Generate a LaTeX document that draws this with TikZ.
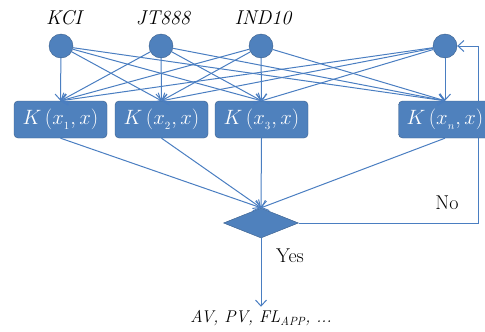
\documentclass[tikz,border=0pt]{standalone}
\usepackage{amsmath}
\usetikzlibrary{arrows.meta, shapes.geometric, backgrounds}
\definecolor{nodeblue}{RGB}{79,129,189}
\definecolor{edgeblue}{RGB}{56,93,138}
\definecolor{lineblue}{RGB}{74,126,193}

\begin{document}
\begin{tikzpicture}
    [x = 1pt, y = -1pt,
      dot/.style={circle, minimum size = 24pt, inner sep = 0pt, fill = nodeblue, draw = edgeblue},
      kbox/.style={rectangle, rounded corners = 4pt, minimum width = 93pt, minimum height = 37pt,
        fill = nodeblue, draw = edgeblue, text = white, font = \fontsize{22}{24}\selectfont},
      test/.style={diamond, aspect = 2.5, minimum width = 75pt, minimum height = 30pt,
        inner sep = 0pt, fill = nodeblue, draw = edgeblue},
      link/.style={draw = lineblue, line width = 1pt, -{Straight Barb[length = 6pt, width = 11pt]}},
      lbl/.style={font = \fontsize{20}{22}\selectfont}]
    \useasboundingbox (0,0) rectangle (485,332);

    % inputs
    \node[dot] (c1) at (61,46) {};
    \node[dot] (c2) at (161,46) {};
    \node[dot] (c3) at (261,46) {};
    \node[dot] (cn) at (445,46) {};
    \node[lbl] (l1) at (64,18) {\itshape KCI};
    \node[lbl] (l2) at (163,18) {\itshape JT888};
    \node[lbl] (l3) at (263,18) {\itshape IND10};

    % kernels
    \node[kbox] (k1) at (60.5,119.5) {$K\,(x_{_1}, x)$};
    \node[kbox] (k2) at (161.5,119.5) {$K\,(x_{_2}, x)$};
    \node[kbox] (k3) at (261.5,119.5) {$K\,(x_{_3}, x)$};
    \node[kbox] (kn) at (445,119.5) {$K\,(x_{_n}, x)$};

    \node[test] (dia) at (261,223) {};
    \node[lbl, font = \fontsize{17}{19}\selectfont] (res) at (261,318) {\itshape AV, PV, FL\textsubscript{APP}, ...};
    \node[lbl] (yes) at (290,256) {Yes};
    \node[lbl] (no) at (447,203) {No};
    \coordinate (turn) at (478,223);

    \foreach \c in {c1,c2,c3,cn}
      \foreach \k in {k1,k2,k3,kn}
        \draw[link] (\c) -- (\k.north);
    \foreach \k in {k1,k2,k3,kn}
      \draw[link] (\k.south) -- (dia.north);
    \draw[link] (dia.south) -- (res.north);
    \begin{scope}[on background layer]
      \draw[link] (dia.east) -- (turn) |- (cn.east);
    \end{scope}
  \end{tikzpicture}
\end{document}
